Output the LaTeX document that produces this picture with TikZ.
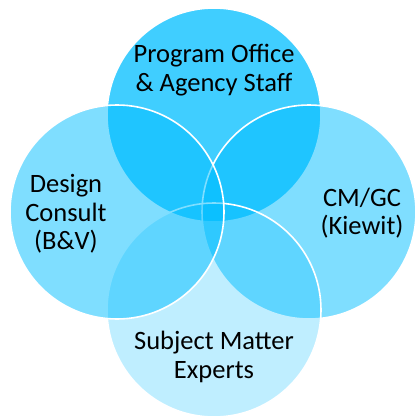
\documentclass[tikz,border=0pt]{standalone}
\usepackage{fontspec}
\setmainfont{Carlito}
\usepackage{tikz}
\usetikzlibrary{positioning}
\definecolor{venncyan}{RGB}{0,190,255}
\tikzset{
    venn/.style={circle, draw=white, line width=1.6pt, fill=venncyan, minimum size=214pt, inner sep=0pt},
    label/.style={align=center, text=black, font=\fontsize{26.5}{28.5}\selectfont}
}

\begin{document}
\begin{tikzpicture}[x=1pt, y=-1pt]
    % Canvas
    \useasboundingbox [fill=white] (0,0) rectangle (417,418);

    % Overlapping circles
    \node [venn, fill opacity=0.75] (office) at (214,115) {};
    \node [venn, fill opacity=0.5] (cmgc) at (309,212) {};
    \node [venn, fill opacity=0.25] (experts) at (214,310) {};
    \node [venn, fill opacity=0.5] (design) at (117,212) {};

    % Labels
    \node [label] (officetext) at (214,70) {Program Office\\\& Agency Staff};
    \node [label] (designtext) at (66,214) {Design\\Consult\\(B\&V)};
    \node [label] (cmgctext) at (362,213) {CM/GC\\(Kiewit)};
    \node [label] (expertstext) at (214,357) {Subject Matter\\Experts};
\end{tikzpicture}
\end{document}
